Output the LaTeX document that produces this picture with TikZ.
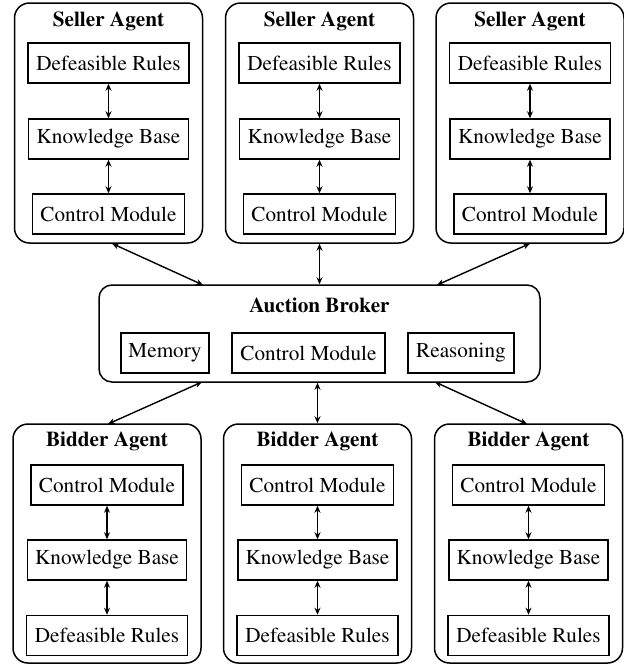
\documentclass[tikz,border=0pt]{standalone}
\usepackage[T1]{fontenc}
\renewcommand{\rmdefault}{ptm}
\usetikzlibrary{arrows.meta}
\begin{document}
\begin{tikzpicture}[x=1pt,y=-1pt,
  outerbox/.style={draw,line width=1.5pt,rounded corners=15pt,minimum width=188pt,minimum height=240pt,inner sep=0pt},
  brokerbox/.style={draw,line width=1.5pt,rounded corners=13pt,minimum width=441pt,minimum height=97pt,inner sep=0pt},
  comp/.style={draw,line width=1.5pt,minimum height=40pt,inner sep=0pt,font=\rmfamily\fontsize{21.2}{24}\selectfont},
  ttl/.style={font=\rmfamily\fontsize{21.2}{24}\selectfont\bfseries,inner sep=0pt},
  link/.style={line width=1.4pt,{Stealth[length=7pt,width=6pt]}-{Stealth[length=7pt,width=6pt]}}]
\useasboundingbox (0,0) rectangle (624,665);

% Seller agents (top)
\foreach \i/\cx in {1/108.5,2/319.5,3/530}{
  \node[outerbox] (s\i) at (\cx,123) {};
  \node[ttl] (s\i t) at (\cx,21) {Seller Agent};
  \node[comp,minimum width=161pt] (s\i dr) at (\cx,63) {Defeasible Rules};
  \node[comp,minimum width=160pt] (s\i kb) at (\cx,139) {Knowledge Base};
  \node[comp,minimum width=152pt] (s\i cm) at (\cx,214) {Control Module};
  \draw[link] (s\i dr) -- (s\i kb);
  \draw[link] (s\i kb) -- (s\i cm);
}

% Bidder agents (bottom)
\foreach \i/\cx in {1/107,2/317.5,3/528.5}{
  \node[outerbox,minimum height=239pt] (d\i) at (\cx,543.5) {};
  \node[ttl] (d\i t) at (\cx,441) {Bidder Agent};
  \node[comp,minimum width=152pt] (d\i cm) at (\cx,485) {Control Module};
  \node[comp,minimum width=159pt] (d\i kb) at (\cx,560) {Knowledge Base};
  \node[comp,minimum width=161pt] (d\i dr) at (\cx,635.5) {Defeasible Rules};
  \draw[link] (d\i cm) -- (d\i kb);
  \draw[link] (d\i kb) -- (d\i dr);
}

% Auction broker
\node[brokerbox] (bk) at (319.5,333.5) {};
\node[ttl] (bkt) at (319.5,305) {Auction Broker};
\node[comp,minimum width=88pt] (mem) at (165,353) {Memory};
\node[comp,minimum width=153pt] (bcm) at (308.5,353) {Control Module};
\node[comp,minimum width=106pt] (rea) at (461,353) {Reasoning};

% connection points
\coordinate (s1a) at (112,243.5);
\coordinate (s3a) at (530,243.5);
\coordinate (bn1) at (203,285);
\coordinate (bn3) at (437,285);
\coordinate (bs1) at (202,382);
\coordinate (bs3) at (435,382);
\coordinate (d1a) at (108,424);
\coordinate (d3a) at (527,424);

\draw[link] (s1a) -- (bn1);
\draw[link] (s2.south) -- (bk.north -| s2.south);
\draw[link] (s3a) -- (bn3);
\draw[link] (bs1) -- (d1a);
\draw[link] (bk.south -| d2.north) -- (d2.north);
\draw[link] (bs3) -- (d3a);
\end{tikzpicture}
\end{document}
